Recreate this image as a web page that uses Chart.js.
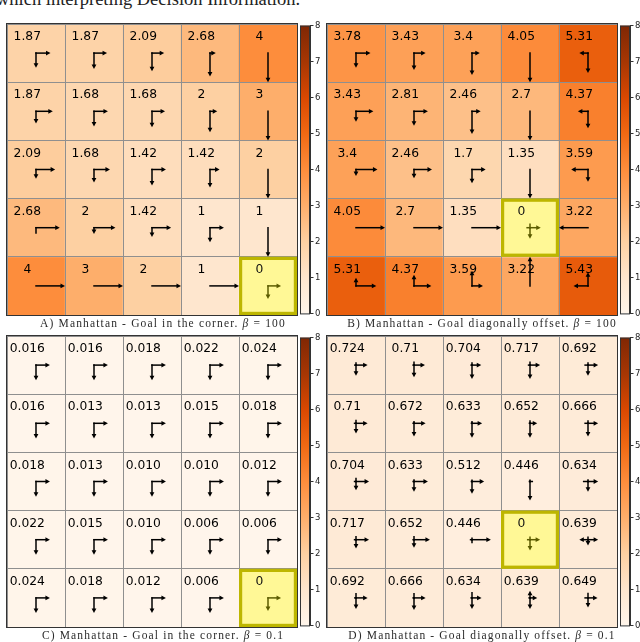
<!DOCTYPE html>
<html><head><meta charset="utf-8">
<script src="https://cdn.jsdelivr.net/npm/chart.js@4.4.1/dist/chart.umd.min.js"></script>
<style>
html,body{margin:0;padding:0;background:#fff;overflow:hidden;width:640px;height:642px;}
.box{position:absolute;}
canvas{display:block;}
.cap{position:absolute;width:400px;text-align:center;font-family:"Liberation Serif","DejaVu Serif",serif;font-size:11.5px;line-height:12px;letter-spacing:1.15px;color:#2a2a2a;white-space:nowrap;}
.top{position:absolute;left:-4px;top:-10px;font-family:"Liberation Serif","DejaVu Serif",serif;font-size:18.5px;line-height:18px;color:#222;white-space:nowrap;}
</style></head><body>
<div class="top">which interpreting Decision Information.</div>

<div class="box" style="left:6px;top:23px;"><canvas id="gA" width="292" height="293"></canvas></div>
<div class="box" style="left:326px;top:23px;"><canvas id="gB" width="292" height="293"></canvas></div>
<div class="box" style="left:6px;top:335px;"><canvas id="gC" width="292" height="293"></canvas></div>
<div class="box" style="left:326px;top:335px;"><canvas id="gD" width="292" height="293"></canvas></div>

<div class="box" style="left:299px;top:19px;"><canvas id="cA" width="30" height="301"></canvas></div>
<div class="box" style="left:619px;top:19px;"><canvas id="cB" width="30" height="301"></canvas></div>
<div class="box" style="left:299px;top:331px;"><canvas id="cC" width="30" height="301"></canvas></div>
<div class="box" style="left:619px;top:331px;"><canvas id="cD" width="30" height="301"></canvas></div>

<div class="cap" style="left:-37px;top:317px;">A) Manhattan - Goal in the corner. <i>β</i> = 100</div>
<div class="cap" style="left:282px;top:317px;">B) Manhattan - Goal diagonally offset. <i>β</i> = 100</div>
<div class="cap" style="left:-37px;top:629px;">C) Manhattan - Goal in the corner. <i>β</i> = 0.1</div>
<div class="cap" style="left:282px;top:629px;">D) Manhattan - Goal diagonally offset. <i>β</i> = 0.1</div>

<script>
// ---------- DATA ----------
const colLabels = ['0', '1', '2', '3', '4'];
const rowIdx = [0, 1, 2, 3, 4];
const cbTicks = [0, 1, 2, 3, 4, 5, 6, 7, 8];

const valuesA = [
  [1.87, 1.87, 2.09, 2.68, 4],
  [1.87, 1.68, 1.68, 2, 3],
  [2.09, 1.68, 1.42, 1.42, 2],
  [2.68, 2, 1.42, 1, 1],
  [4, 3, 2, 1, 0]
];
const valuesB = [
  [3.78, 3.43, 3.4, 4.05, 5.31],
  [3.43, 2.81, 2.46, 2.7, 4.37],
  [3.4, 2.46, 1.7, 1.35, 3.59],
  [4.05, 2.7, 1.35, 0, 3.22],
  [5.31, 4.37, 3.59, 3.22, 5.43]
];
const valuesC = [
  [0.016, 0.016, 0.018, 0.022, 0.024],
  [0.016, 0.013, 0.013, 0.015, 0.018],
  [0.018, 0.013, 0.010, 0.010, 0.012],
  [0.022, 0.015, 0.010, 0.006, 0.006],
  [0.024, 0.018, 0.012, 0.006, 0]
];
const valuesD = [
  [0.724, 0.71, 0.704, 0.717, 0.692],
  [0.71, 0.672, 0.633, 0.652, 0.666],
  [0.704, 0.633, 0.512, 0.446, 0.634],
  [0.717, 0.652, 0.446, 0, 0.639],
  [0.692, 0.666, 0.634, 0.639, 0.649]
];

// policy per cell: [up, down, left, right]
const policyA = [
  [[0,.5,0,.5],[0,.55,0,.45],[0,.62,0,.42],[0,.8,0,.2],[0,1,0,0]],
  [[0,.42,0,.58],[0,.52,0,.48],[0,.55,0,.45],[0,.72,0,.25],[0,1,0,0]],
  [[0,.32,0,.66],[0,.45,0,.55],[0,.55,0,.48],[0,.62,0,.33],[0,1,0,0]],
  [[0,.18,0,.82],[0,.22,0,.74],[0,.32,0,.66],[0,.5,0,.48],[0,1,0,0]],
  [[0,0,0,1],[0,0,0,1],[0,0,0,1],[0,0,0,1],[0,.45,0,.45]]
];
const policyB = [
  [[0,.5,0,.5],[0,.58,0,.4],[0,.75,0,.27],[0,1,0,0],[0,.68,.3,0]],
  [[0,.36,0,.6],[0,.5,0,.48],[0,.78,0,.3],[0,1,0,0],[0,.58,.35,0]],
  [[0,.22,0,.74],[0,.3,0,.62],[0,.47,0,.47],[0,1,0,0],[0,.42,.58,0]],
  [[0,0,0,1],[0,0,0,1],[0,0,0,1],[.12,.38,.1,.37],[0,0,1,0]],
  [[.28,0,0,.7],[.38,0,0,.6],[.52,0,0,.38],[1,0,0,0],[.47,0,.5,0]]
];
const policyC = [
  [[0,.52,0,.48],[0,.52,0,.48],[0,.52,0,.48],[0,.52,0,.48],[0,.52,0,.48]],
  [[0,.52,0,.48],[0,.52,0,.48],[0,.52,0,.48],[0,.52,0,.48],[0,.52,0,.48]],
  [[0,.52,0,.48],[0,.52,0,.48],[0,.52,0,.48],[0,.52,0,.48],[0,.52,0,.48]],
  [[0,.52,0,.48],[0,.52,0,.48],[0,.52,0,.48],[0,.52,0,.48],[0,.52,0,.48]],
  [[0,.52,0,.48],[0,.52,0,.48],[0,.52,0,.48],[0,.52,0,.48],[0,.45,0,.45]]
];
const policyD = [
  [[.07,.37,.04,.4],[.1,.42,.03,.38],[.07,.48,.03,.32],[.1,.48,.05,.35],[.07,.37,.1,.35]],
  [[.1,.35,.05,.4],[.05,.45,.03,.4],[.05,.5,.02,.35],[.08,.5,.02,.25],[.08,.45,.1,.35]],
  [[.1,.3,.05,.45],[.05,.35,.03,.48],[.04,.42,.02,.42],[.04,.65,.02,.08],[.05,.35,.15,.35]],
  [[.1,.3,.05,.45],[.1,.28,.03,.55],[.05,.1,.05,.65],[.08,.37,.08,.35],[.08,.2,.3,.35]],
  [[.14,.38,.04,.4],[.14,.42,.03,.4],[.18,.38,.03,.33],[.25,.38,.03,.25],[.15,.33,.1,.33]]
];

const goalA = [4, 4];
const goalB = [3, 3];
const goalC = [4, 4];
const goalD = [3, 3];

// ---------- STYLE ----------
const ORANGES = ['#fff5eb','#fee6ce','#fdd0a2','#fdae6b','#fd8d3c','#f16913','#d94801','#a63603','#7f2704'];
const VMIN = cbTicks[0], VMAX = cbTicks[cbTicks.length - 1];

function hex(h){ return [1,3,5].map(i => parseInt(h.substr(i,2),16)); }
function cmap(v){
  const t = (Math.max(VMIN, Math.min(VMAX, v)) - VMIN) / (VMAX - VMIN) * (ORANGES.length - 1);
  const i = Math.min(Math.floor(t), ORANGES.length - 2), f = t - i;
  const a = hex(ORANGES[i]), b = hex(ORANGES[i+1]);
  return 'rgb(' + a.map((x,k) => Math.round(x + (b[k]-x)*f)).join(',') + ')';
}

function drawArrow(ctx, x0, y0, dx, dy, len, color){
  if (len < 0.4) return;
  const head = 4.5, hw = 2.4;
  const hasHead = len > head + 0.8;
  ctx.strokeStyle = color; ctx.fillStyle = color;
  ctx.lineWidth = 1.5; ctx.lineCap = 'square';
  const le = hasHead ? len - head * 0.7 : len;
  ctx.beginPath();
  ctx.moveTo(x0, y0);
  ctx.lineTo(x0 + dx*le, y0 + dy*le);
  ctx.stroke();
  if (hasHead){
    const ex = x0 + dx*len, ey = y0 + dy*len;
    const bx = ex - dx*head, by = ey - dy*head;
    const px = -dy, py = dx;
    ctx.beginPath();
    ctx.moveTo(ex, ey);
    ctx.lineTo(bx + px*hw, by + py*hw);
    ctx.lineTo(bx - px*hw, by - py*hw);
    ctx.closePath();
    ctx.fill();
  }
}

const cellPlugin = {
  id: 'cells',
  afterDraw(chart){
    const o = chart.options.plugins.cells;
    const {ctx, chartArea: a, scales: {x, y}} = chart;
    const cw = x.getPixelForValue(1) - x.getPixelForValue(0);
    const ch = Math.abs(y.getPixelForValue(1) - y.getPixelForValue(0));
    ctx.save();
    // outer frame
    ctx.strokeStyle = '#333'; ctx.lineWidth = 1;
    ctx.strokeRect(a.left - 0.5, a.top - 0.5, a.right - a.left + 1, a.bottom - a.top + 1);
    // value texts
    ctx.font = '12.3px "DejaVu Sans", sans-serif';
    ctx.textAlign = 'center'; ctx.textBaseline = 'alphabetic';
    ctx.fillStyle = '#000';
    const label = v => v === 0 ? '0' : (o.fixed ? v.toFixed(o.fixed) : String(v));
    o.values.forEach((row, r) => row.forEach((v, c) => {
      if (r === o.goal[0] && c === o.goal[1]) return;
      ctx.fillText(label(v), x.getPixelForValue(c) - 0.15*cw, y.getPixelForValue(r + 0.28));
    }));
    // arrows
    o.policy.forEach((row, r) => row.forEach((p, c) => {
      const cx = x.getPixelForValue(c), cy = y.getPixelForValue(r + 0.5);
      const col = '#000';
      drawArrow(ctx, cx, cy, 0, -1, p[0]*0.5*ch, col);
      drawArrow(ctx, cx, cy, 0, 1, p[1]*0.5*ch, col);
      drawArrow(ctx, cx, cy, -1, 0, p[2]*0.5*cw, col);
      drawArrow(ctx, cx, cy, 1, 0, p[3]*0.5*cw, col);
    }));
    // goal highlight
    const [gr, gc] = o.goal;
    const gx0 = x.getPixelForValue(gc) - cw/2, gy0 = y.getPixelForValue(gr);
    ctx.fillStyle = 'rgba(255,255,0,0.36)';
    ctx.fillRect(gx0, gy0, cw, ch);
    ctx.strokeStyle = '#bdb600'; ctx.lineWidth = 3.2;
    ctx.strokeRect(gx0 + 1.6, gy0 + 1.6, cw - 3.2, ch - 3.2);
    ctx.fillStyle = '#111';
    ctx.fillText(label(o.values[gr][gc]), x.getPixelForValue(gc) - 0.15*cw, y.getPixelForValue(gr + 0.28));
    ctx.restore();
  }
};

function gridChart(id, values, policy, goal, fixed){
  const datasets = rowIdx.map(r => ({
    data: colLabels.map((_, c) => [r, r + 1]),
    backgroundColor: values[r].map(v => cmap(v)),
    borderWidth: 0,
    barPercentage: 1,
    categoryPercentage: 1,
    grouped: false
  }));
  new Chart(document.getElementById(id), {
    type: 'bar',
    data: {labels: colLabels, datasets},
    options: {
      responsive: false, animation: false, events: [],
      layout: {padding: 1},
      plugins: {legend: {display: false}, tooltip: {enabled: false},
        cells: {values, policy, goal, fixed}},
      scales: {
        x: {offset: true, grid: {offset: true, color: '#8f8f8f', lineWidth: 1, drawTicks: false, z: 1},
            ticks: {display: false}, border: {display: false}, afterFit(s){ s.height = 0; }},
        y: {min: 0, max: 5, reverse: true, ticks: {display: false, stepSize: 1},
            grid: {color: '#8f8f8f', lineWidth: 1, drawTicks: false, z: 1},
            border: {display: false}, afterFit(s){ s.width = 0; }}
      }
    },
    plugins: [cellPlugin]
  });
}

const outlinePlugin = {
  id: 'cbOutline',
  afterDraw(chart){
    const {ctx, chartArea: a} = chart;
    ctx.save();
    ctx.strokeStyle = '#333'; ctx.lineWidth = 1;
    ctx.strokeRect(a.left + 0.5, a.top + 0.5, a.right - a.left - 1, a.bottom - a.top);
    ctx.restore();
  }
};

function colorbar(id){
  new Chart(document.getElementById(id), {
    type: 'bar',
    data: {labels: [''], datasets: [{
      data: [[VMIN, VMAX]],
      backgroundColor: (c) => {
        const ch = c.chart; const y = ch.scales.y;
        if (!ch.chartArea || !y) return ORANGES[0];
        const g = ch.ctx.createLinearGradient(0, y.getPixelForValue(VMIN), 0, y.getPixelForValue(VMAX));
        ORANGES.forEach((col, i) => g.addColorStop(i / (ORANGES.length - 1), col));
        return g;
      },
      borderWidth: 0, barPercentage: 1, categoryPercentage: 1
    }]},
    options: {
      responsive: false, animation: false, events: [],
      layout: {padding: {top: 5, bottom: 5, left: 1, right: 0}},
      plugins: {legend: {display: false}, tooltip: {enabled: false}},
      scales: {
        x: {display: false},
        y: {position: 'right', min: VMIN, max: VMAX,
            afterBuildTicks(s){ s.ticks = cbTicks.map(v => ({value: v})); },
            ticks: {font: {size: 8.5, family: '"DejaVu Sans", sans-serif'}, color: '#222', padding: 1.5},
            grid: {drawOnChartArea: false, tickLength: 3.5, color: '#333', lineWidth: 1},
            border: {display: true, color: '#333'},
            afterFit(s){ s.width = 19; }}
      }
    },
    plugins: [outlinePlugin]
  });
}

gridChart('gA', valuesA, policyA, goalA, 0);
gridChart('gB', valuesB, policyB, goalB, 0);
gridChart('gC', valuesC, policyC, goalC, 3);
gridChart('gD', valuesD, policyD, goalD, 0);
['cA', 'cB', 'cC', 'cD'].forEach(colorbar);
</script>
</body></html>
